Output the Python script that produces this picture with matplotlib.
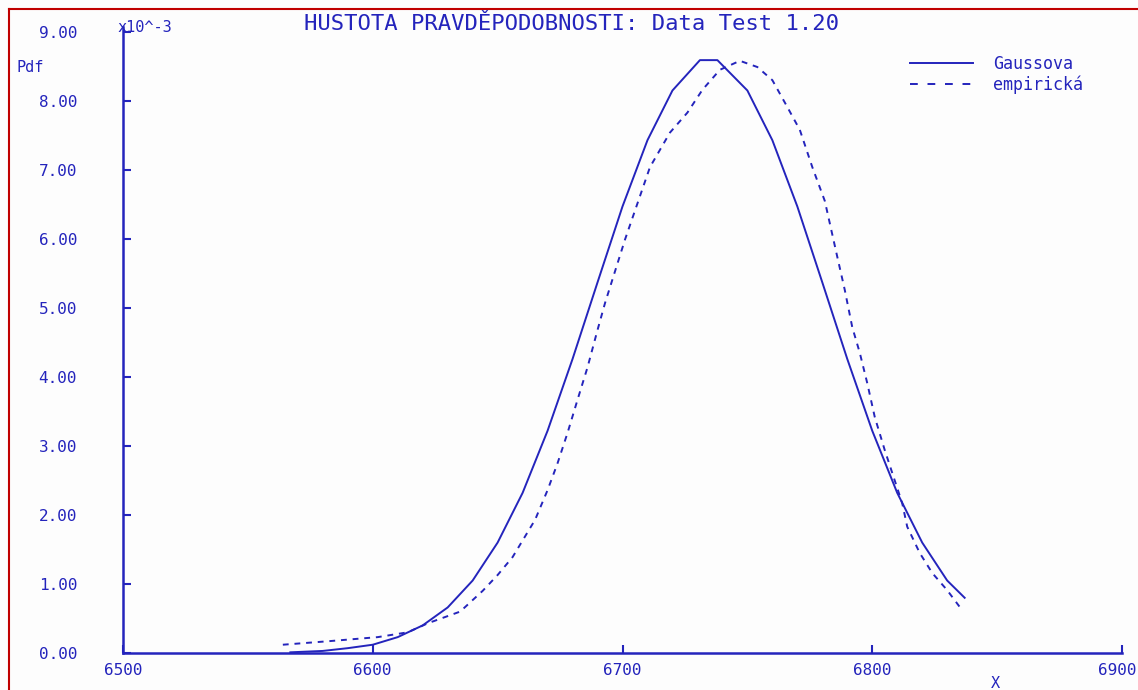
import matplotlib
matplotlib.use("Agg")
import matplotlib.pyplot as plt
from matplotlib.lines import Line2D
from matplotlib.transforms import ScaledTranslation

# Gaussian fit (values in units of 1e-3)
gauss_x = [6567, 6580, 6590, 6600, 6610, 6620, 6630, 6640, 6650, 6660, 6670,
           6680, 6690, 6700, 6710, 6720, 6731, 6738, 6750, 6760, 6770, 6780,
           6790, 6800, 6810, 6820, 6830, 6837]
gauss_y = [0.01, 0.03, 0.07, 0.12, 0.23, 0.40, 0.66, 1.05, 1.60, 2.32, 3.22,
           4.26, 5.37, 6.47, 7.43, 8.15, 8.59, 8.59, 8.15, 7.43, 6.47, 5.37,
           4.26, 3.22, 2.32, 1.60, 1.05, 0.80]

# empirical density
emp_x = [6564, 6582, 6602, 6614, 6622, 6635, 6644, 6650, 6656, 6665, 6670,
         6674, 6678, 6682, 6686, 6690, 6693, 6701, 6711, 6719, 6726, 6732,
         6739, 6747, 6754, 6760, 6766, 6771, 6776, 6781, 6786, 6789, 6792,
         6795, 6798, 6801, 6805, 6808, 6812, 6814, 6819, 6824, 6830, 6836]
emp_y = [0.12, 0.17, 0.23, 0.30, 0.43, 0.60, 0.90, 1.13, 1.39, 1.93, 2.36,
         2.75, 3.19, 3.67, 4.14, 4.68, 5.07, 5.99, 7.04, 7.54, 7.83, 8.16,
         8.45, 8.58, 8.49, 8.30, 7.91, 7.58, 7.04, 6.55, 5.74, 5.26, 4.72,
         4.35, 3.91, 3.42, 2.94, 2.61, 2.17, 1.83, 1.45, 1.16, 0.91, 0.62]

x_ticks = [6500, 6600, 6700, 6800, 6900]
y_ticks = [0, 1, 2, 3, 4, 5, 6, 7, 8, 9]

blue = "#2424bc"
red = "#c00000"
mono = "DejaVu Sans Mono"

fig = plt.figure(figsize=(11.38, 6.9), dpi=100, facecolor="#fdfdfd")
ax = fig.add_axes([123 / 1138, 1 - 653 / 690, (1122 - 123) / 1138, (653 - 27) / 690])
ax.set_facecolor("#fdfdfd")

ax.plot(gauss_x, gauss_y, color=blue, lw=1.4)
ax.plot(emp_x, emp_y, color=blue, lw=1.4, linestyle=(0, (3, 3)))

ax.set_xlim(6500, 6900)
ax.set_ylim(0, 9.07)
ax.set_xticks(x_ticks)
ax.set_yticks(y_ticks)
ax.set_xticklabels([str(v) for v in x_ticks])
ax.set_yticklabels([f"{v:.2f}" for v in y_ticks])

for s in ["top", "right"]:
    ax.spines[s].set_visible(False)
for s in ["left", "bottom"]:
    ax.spines[s].set_color(blue)
    ax.spines[s].set_linewidth(1.8)

ax.tick_params(axis="both", direction="in", length=6, width=1.5, color=blue,
               labelcolor=blue, labelsize=11.5)
ax.tick_params(axis="y", pad=33)
ax.tick_params(axis="x", pad=7)
for lab in ax.get_xticklabels() + ax.get_yticklabels():
    lab.set_family(mono)
# last x label sits a bit left so it stays inside the window
last = ax.get_xticklabels()[-1]
last.set_transform(last.get_transform() + ScaledTranslation(-0.05, 0, fig.dpi_scale_trans))

fig.text(572 / 1138, 1 - 24 / 690, "HUSTOTA PRAVDĚPODOBNOSTI: Data Test 1.20",
         ha="center", va="center", color=blue, fontsize=16, family=mono)
fig.text(117 / 1138, 1 - 27 / 690, "x10^-3", ha="left", va="center",
         color=blue, fontsize=11, family=mono)
fig.text(17 / 1138, 1 - 68 / 690, "Pdf", ha="left", va="center",
         color=blue, fontsize=11, family=mono)
fig.text(995 / 1138, 1 - 683 / 690, "X", ha="center", va="center",
         color=blue, fontsize=11, family=mono)

handles = [Line2D([], [], color=blue, lw=1.4),
           Line2D([], [], color=blue, lw=1.4, linestyle=(0, (4, 5)))]
ax.legend(handles, ["Gaussova", "empirická"], loc="upper right",
          bbox_to_anchor=(1098 / 1138, 1 - 40 / 690), bbox_transform=fig.transFigure,
          frameon=False, handlelength=3.8, handletextpad=1.2, labelspacing=0.15,
          prop={"family": mono, "size": 12}, labelcolor=blue)

# red frame lines at top and left of the window
fig.add_artist(Line2D([9 / 1138, 1], [1 - 9 / 690, 1 - 9 / 690],
                      transform=fig.transFigure, color=red, lw=1.5))
fig.add_artist(Line2D([9 / 1138, 9 / 1138], [0, 1 - 9 / 690],
                      transform=fig.transFigure, color=red, lw=1.5))

fig.savefig("out.png", dpi=100, facecolor=fig.get_facecolor())
